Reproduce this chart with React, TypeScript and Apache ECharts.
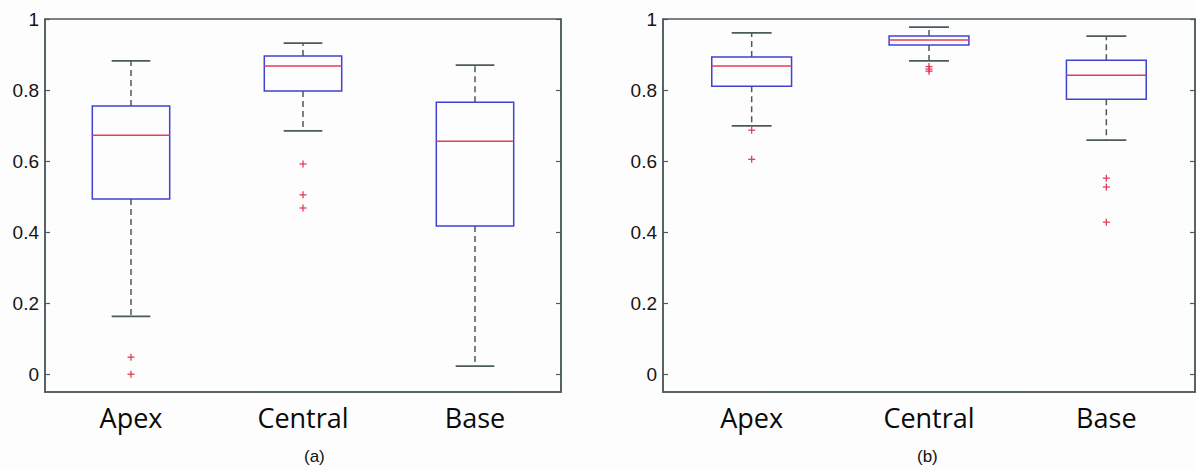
import React, { useEffect, useRef } from "react";
import * as echarts from "echarts";

const categories = ["Apex", "Central", "Base"];
const yTicks = [0, 0.2, 0.4, 0.6, 0.8, 1];

// [lower whisker, Q1, median, Q3, upper whisker]
const boxesA = [
  [0.163, 0.493, 0.673, 0.755, 0.882],
  [0.685, 0.797, 0.868, 0.896, 0.932],
  [0.023, 0.417, 0.656, 0.766, 0.87],
];
const outliersA = [
  [0, 0.048],
  [0, 0.0],
  [1, 0.592],
  [1, 0.505],
  [1, 0.468],
];

const boxesB = [
  [0.699, 0.811, 0.868, 0.893, 0.961],
  [0.882, 0.927, 0.941, 0.952, 0.977],
  [0.659, 0.774, 0.842, 0.884, 0.952],
];
const outliersB = [
  [0, 0.687],
  [0, 0.605],
  [1, 0.866],
  [1, 0.859],
  [1, 0.853],
  [2, 0.552],
  [2, 0.527],
  [2, 0.428],
];

const BLUE = "#3f42d2";
const RED = "#e63c58";
const GRAY = "#4c5a5c";

function boxSeries(boxes: number[][], idx: number) {
  return {
    type: "custom",
    xAxisIndex: idx,
    yAxisIndex: idx * 2,
    data: boxes.map((b, i) => [i, ...b]),
    encode: { x: 0, y: [1, 2, 3, 4, 5] },
    renderItem: (params: any, api: any) => {
      const x = api.value(0);
      const lo = api.coord([x, api.value(1)]);
      const q1 = api.coord([x, api.value(2)]);
      const md = api.coord([x, api.value(3)]);
      const q3 = api.coord([x, api.value(4)]);
      const hi = api.coord([x, api.value(5)]);
      const band = api.size([1, 0])[0];
      const bw = band * 0.45;
      const cw = bw / 2;
      const cx = lo[0];
      const dashStyle = { stroke: GRAY, lineWidth: 1.5, lineDash: [6, 4] };
      const solid = { stroke: GRAY, lineWidth: 1.8 };
      return {
        type: "group",
        children: [
          { type: "line", shape: { x1: cx, y1: q3[1], x2: cx, y2: hi[1] }, style: dashStyle },
          { type: "line", shape: { x1: cx, y1: q1[1], x2: cx, y2: lo[1] }, style: dashStyle },
          { type: "line", shape: { x1: cx - cw / 2, y1: hi[1], x2: cx + cw / 2, y2: hi[1] }, style: solid },
          { type: "line", shape: { x1: cx - cw / 2, y1: lo[1], x2: cx + cw / 2, y2: lo[1] }, style: solid },
          {
            type: "rect",
            shape: { x: cx - bw / 2, y: q3[1], width: bw, height: q1[1] - q3[1] },
            style: { fill: "none", stroke: BLUE, lineWidth: 1.5 },
          },
          { type: "line", shape: { x1: cx - bw / 2, y1: md[1], x2: cx + bw / 2, y2: md[1] }, style: { stroke: RED, lineWidth: 1.5 } },
        ],
      };
    },
  };
}

function outlierSeries(pts: number[][], idx: number) {
  return {
    type: "custom",
    xAxisIndex: idx,
    yAxisIndex: idx * 2,
    data: pts,
    encode: { x: 0, y: 1 },
    renderItem: (params: any, api: any) => {
      const p = api.coord([api.value(0), api.value(1)]);
      const s = 3.5;
      const st = { stroke: RED, lineWidth: 1.3 };
      return {
        type: "group",
        children: [
          { type: "line", shape: { x1: p[0] - s, y1: p[1], x2: p[0] + s, y2: p[1] }, style: st },
          { type: "line", shape: { x1: p[0], y1: p[1] - s, x2: p[0], y2: p[1] + s }, style: st },
        ],
      };
    },
  };
}

function yAxes(gridIndex: number) {
  const common = {
    type: "value",
    gridIndex,
    min: -0.05,
    max: 1,
    splitLine: { show: false },
    axisLine: { show: true, onZero: false, lineStyle: { color: GRAY, width: 1.5 } },
  };
  return [
    {
      ...common,
      position: "left",
      axisTick: { show: true, inside: true, length: 5, customValues: yTicks, lineStyle: { color: GRAY, width: 1.2 } },
      axisLabel: {
        show: true,
        customValues: yTicks,
        margin: 6,
        color: "#151515",
        fontFamily: "Liberation Sans",
        fontSize: 19,
        formatter: (v: number) => String(+v.toFixed(1)),
      },
    },
    {
      ...common,
      position: "right",
      axisTick: { show: true, inside: true, length: 5, customValues: yTicks, lineStyle: { color: GRAY, width: 1.2 } },
      axisLabel: { show: false },
    },
  ];
}

function xAxis(gridIndex: number) {
  return {
    type: "category",
    gridIndex,
    data: categories,
    boundaryGap: true,
    axisLine: { show: true, onZero: false, lineStyle: { color: GRAY, width: 1.5 } },
    axisTick: { show: false },
    axisLabel: {
      margin: 12,
      color: "#0a0a0a",
      fontFamily: "Open Sans",
      fontSize: 27,
    },
  };
}

export default function App() {
  const ref = useRef<HTMLDivElement>(null);
  useEffect(() => {
    if (!ref.current) return;
    const chart = echarts.init(ref.current, undefined, { renderer: "svg" });
    chart.setOption({
      animation: false,
      backgroundColor: "#fdfdfe",
      grid: [
        { left: 45, top: 19, width: 516, height: 373, show: true, borderColor: GRAY, borderWidth: 1.5, backgroundColor: "transparent" },
        { left: 663, top: 19, width: 532, height: 373, show: true, borderColor: GRAY, borderWidth: 1.5, backgroundColor: "transparent" },
      ],
      xAxis: [xAxis(0), xAxis(1)],
      yAxis: [...yAxes(0), ...yAxes(1)],
      series: [boxSeries(boxesA, 0), outlierSeries(outliersA, 0), boxSeries(boxesB, 1), outlierSeries(outliersB, 1)],
      graphic: [
        { type: "text", left: 304, top: 448, style: { text: "(a)", font: "17px 'Liberation Sans'", fill: "#111" } },
        { type: "text", left: 917, top: 448, style: { text: "(b)", font: "17px 'Liberation Sans'", fill: "#111" } },
      ],
    });
    return () => chart.dispose();
  }, []);
  return <div ref={ref} style={{ position: "fixed", left: 0, top: 0, width: 1196, height: 470 }} />;
}
